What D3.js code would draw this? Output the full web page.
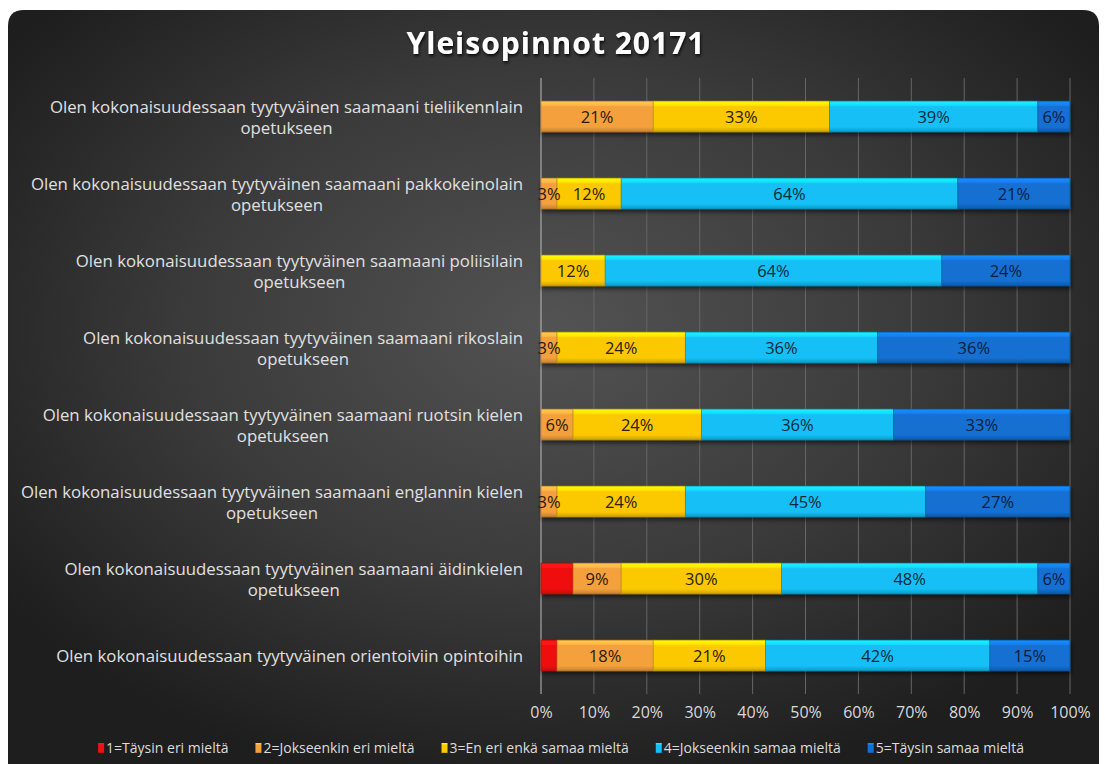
<!DOCTYPE html>
<html>
<head>
<meta charset="utf-8">
<script src="https://cdn.jsdelivr.net/npm/d3@7"></script>
<style>
  body { margin: 0; background: #fff; }
  svg { display: block; }
</style>
</head>
<body>
<div class="canvas"></div>
<script>
// categories top to bottom
const categories = [
  "Olen kokonaisuudessaan tyytyväinen saamaani tieliikennlain|opetukseen",
  "Olen kokonaisuudessaan tyytyväinen saamaani pakkokeinolain|opetukseen",
  "Olen kokonaisuudessaan tyytyväinen saamaani poliisilain|opetukseen",
  "Olen kokonaisuudessaan tyytyväinen saamaani rikoslain|opetukseen",
  "Olen kokonaisuudessaan tyytyväinen saamaani ruotsin kielen|opetukseen",
  "Olen kokonaisuudessaan tyytyväinen saamaani englannin kielen|opetukseen",
  "Olen kokonaisuudessaan tyytyväinen saamaani äidinkielen|opetukseen",
  "Olen kokonaisuudessaan tyytyväinen orientoiviin opintoihin"
];
const seriesNames = [
  "1=Täysin eri mieltä",
  "2=Jokseenkin eri mieltä",
  "3=En eri enkä samaa mieltä",
  "4=Jokseenkin samaa mieltä",
  "5=Täysin samaa mieltä"
];
// percent values, one array per series, same order as categories
const s1 = [0, 0, 0, 0, 0, 0, 6.06, 3.03];
const s2 = [21.21, 3.03, 0, 3.03, 6.06, 3.03, 9.09, 18.18];
const s3 = [33.33, 12.12, 12.12, 24.24, 24.24, 24.24, 30.30, 21.21];
const s4 = [39.39, 63.64, 63.64, 36.36, 36.36, 45.45, 48.48, 42.42];
const s5 = [6.06, 21.21, 24.24, 36.36, 33.33, 27.27, 6.06, 15.15];
const tickValues = [0, 10, 20, 30, 40, 50, 60, 70, 80, 90, 100];

const colors = ["#f01010", "#f3a03c", "#fcc800", "#12c0f6", "#1270d2"];
const labelColors = [null, "#2a1a08", "#2a2008", "#0a2a3a", "#0a1e40"];

const W = 1105, H = 764;
const FONT = "Open Sans";
const svg = d3.select(".canvas").append("svg").attr("width", W).attr("height", H);
const defs = svg.append("defs");

const bg = defs.append("radialGradient").attr("id", "bg")
  .attr("cx", "0.5").attr("cy", "0.42").attr("r", "0.62");
bg.append("stop").attr("offset", "0%").attr("stop-color", "#535353");
bg.append("stop").attr("offset", "55%").attr("stop-color", "#3a3a3a");
bg.append("stop").attr("offset", "100%").attr("stop-color", "#1e1e1e");

// bevel gradients
colors.forEach((c, i) => {
  const g = defs.append("linearGradient").attr("id", "bar" + i)
    .attr("x1", 0).attr("y1", 0).attr("x2", 0).attr("y2", 1);
  const base = d3.color(c);
  g.append("stop").attr("offset", "0%").attr("stop-color", base.brighter(0.7));
  g.append("stop").attr("offset", "14%").attr("stop-color", base.brighter(0.35));
  g.append("stop").attr("offset", "18%").attr("stop-color", base);
  g.append("stop").attr("offset", "84%").attr("stop-color", base);
  g.append("stop").attr("offset", "100%").attr("stop-color", base.darker(0.6));
});

const shadow = defs.append("filter").attr("id", "shadow")
  .attr("x", "-5%").attr("y", "-20%").attr("width", "110%").attr("height", "160%");
shadow.append("feDropShadow").attr("dx", 1).attr("dy", 3).attr("stdDeviation", 2)
  .attr("flood-color", "#000").attr("flood-opacity", 0.55);

const titleShadow = defs.append("filter").attr("id", "tshadow");
titleShadow.append("feDropShadow").attr("dx", 1).attr("dy", 2).attr("stdDeviation", 1.5)
  .attr("flood-color", "#000").attr("flood-opacity", 0.8);

// card
svg.append("path")
  .attr("d", `M8,${H} L8,26 Q8,10 24,10 L1083,10 Q1099,10 1099,26 L1099,${H} Z`)
  .attr("fill", "url(#bg)");

svg.append("text")
  .attr("x", 556).attr("y", 54)
  .attr("text-anchor", "middle")
  .attr("fill", "#fff")
  .style("font-family", FONT)
  .style("font-weight", "bold")
  .style("font-size", "30px")
  .style("letter-spacing", "1px")
  .attr("filter", "url(#tshadow)")
  .text("Yleisopinnot 20171");

const x = d3.scaleLinear().domain([0, 100]).range([541, 1070]);
const y = d3.scaleBand().domain(categories).range([78, 694]).paddingInner(0.6).paddingOuter(0.3);

// grid
svg.append("g").selectAll("line").data(tickValues).join("line")
  .attr("x1", d => x(d)).attr("x2", d => x(d))
  .attr("y1", 78).attr("y2", 694)
  .attr("stroke", d => d === 0 ? "#bdbdbd" : "#666")
  .attr("stroke-width", 1);

// x axis labels
const axis = svg.append("g").attr("transform", "translate(0,704)")
  .call(d3.axisBottom(x).tickValues(tickValues).tickFormat(d => d + "%").tickSize(0));
axis.select(".domain").remove();
axis.selectAll("text")
  .attr("fill", "#d9d9d9")
  .style("font-family", FONT)
  .style("font-size", "16px");

// category labels
const catG = svg.append("g");
categories.forEach(c => {
  const lines = c.split("|");
  const cy = y(c) + y.bandwidth() / 2;
  const t = catG.append("text")
    .attr("fill", "#e0e0e0")
    .style("font-family", FONT)
    .style("font-size", "16.8px");
  if (lines.length === 1) {
    t.attr("x", 523).attr("y", cy + 6).attr("text-anchor", "end").text(lines[0]);
  } else {
    const probe = t.append("tspan").text(lines[0]);
    const w = probe.node().getComputedTextLength();
    probe.remove();
    const cx = 523 - w / 2;
    t.attr("text-anchor", "middle");
    t.append("tspan").attr("x", cx).attr("y", cy - 4).text(lines[0]);
    t.append("tspan").attr("x", cx).attr("y", cy + 17).text(lines[1]);
  }
});

// stacked data
const series = [s1, s2, s3, s4, s5];
const rows = categories.map((c, i) => {
  const r = { cat: c };
  seriesNames.forEach((n, k) => r[n] = series[k][i]);
  return r;
});
const stacked = d3.stack().keys(seriesNames)(rows);

const barG = svg.append("g").attr("filter", "url(#shadow)");
stacked.forEach((layer, k) => {
  barG.append("g").selectAll("rect").data(layer.filter(d => d[1] - d[0] > 0)).join("rect")
    .attr("x", d => x(d[0]))
    .attr("width", d => x(d[1]) - x(d[0]))
    .attr("y", d => y(d.data.cat))
    .attr("height", y.bandwidth())
    .attr("fill", `url(#bar${k})`)
    .attr("stroke", d3.color(colors[k]).darker(0.8))
    .attr("stroke-width", 0.6);
});

const lblG = svg.append("g");
stacked.forEach((layer, k) => {
  if (k === 0) return;
  lblG.append("g").selectAll("text").data(layer.filter(d => d[1] - d[0] > 0)).join("text")
    .attr("x", d => (x(d[0]) + x(d[1])) / 2)
    .attr("y", d => y(d.data.cat) + y.bandwidth() / 2 + 6)
    .attr("text-anchor", "middle")
    .attr("fill", labelColors[k])
    .style("font-family", FONT)
    .style("font-size", "16.5px")
    .text(d => Math.round(d[1] - d[0]) + "%");
});

// legend
const leg = svg.append("g");
let lx = 0;
seriesNames.forEach((n, k) => {
  const g = leg.append("g").attr("transform", `translate(${lx},0)`);
  g.append("rect").attr("x", 0).attr("y", -10).attr("width", 6).attr("height", 10)
    .attr("fill", `url(#bar${k})`);
  const t = g.append("text").attr("x", 8).attr("y", 0)
    .attr("fill", "#dcdcdc")
    .style("font-family", FONT)
    .style("font-size", "14px")
    .text(n);
  lx += 8 + t.node().getComputedTextLength() + 27;
});
const legW = lx - 27;
leg.attr("transform", `translate(${561 - legW / 2},753)`);
</script>
</body>
</html>
